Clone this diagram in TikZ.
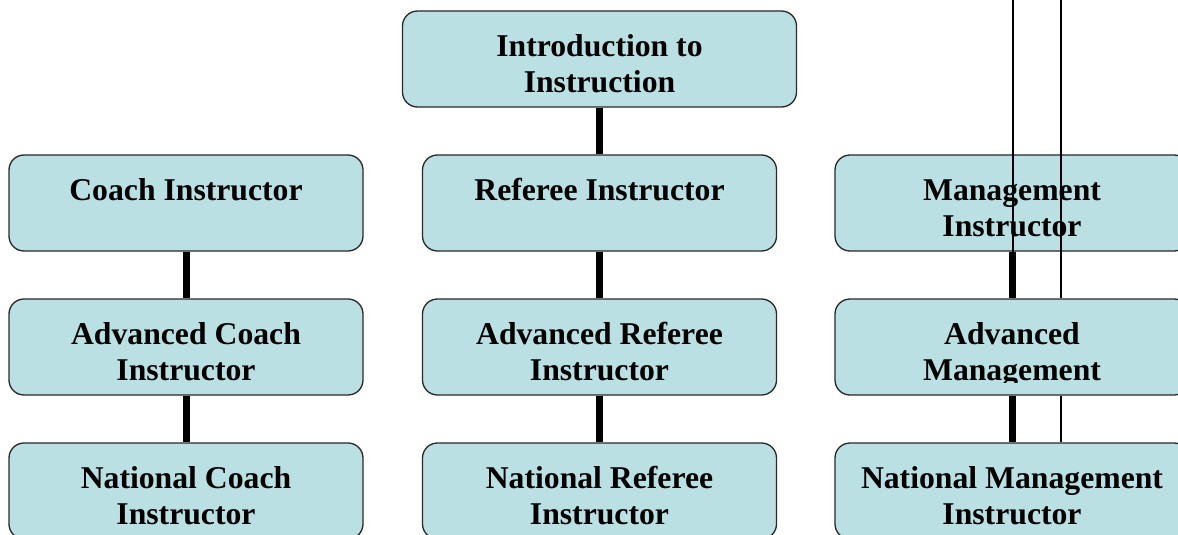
\documentclass[tikz,border=0pt]{standalone}
\usepackage{fontspec}
\setmainfont{Liberation Serif}
\begin{document}
\begin{tikzpicture}[x=1pt,y=-1pt,
  box/.style={draw={rgb,255:red,40;green,40;blue,40},line width=1.3pt,
    fill={rgb,255:red,187;green,224;blue,227},rounded corners=15pt,
    minimum width=354pt,minimum height=96pt,inner sep=0pt},
  txt/.style={anchor=base,align=center,inner sep=0pt,
    font=\fontsize{31.7}{36}\selectfont\bfseries},
  thick line/.style={line width=7pt},
  thin line/.style={line width=2pt}]
\useasboundingbox (0,0) rectangle (1178,535);
\clip (0,0) rectangle (1178,535);
% row 0
\node[box,minimum width=394pt] (intro) at (599.5,59) {};
\node[txt] (intro-t) at ([yshift=-82pt]intro.north) {Introduction to\\Instruction};
% row 1
\node[box] (ci) at (186,203) {};
\node[txt] (ci-t) at ([yshift=-46pt]ci.north) {Coach Instructor};
\node[box] (ri) at (599.5,203) {};
\node[txt] (ri-t) at ([yshift=-46pt]ri.north) {Referee Instructor};
\node[box] (mi) at (1012,203) {};
\node[txt] (mi-t) at ([yshift=-82pt]mi.north) {Management\\Instructor};
% thin lines over the right column
\coordinate (t1) at (1013,0);
\coordinate (t2) at (1061,0);
% row 2 & 3 boxes
\node[box] (aci) at (186,347) {};
\node[box] (ari) at (599.5,347) {};
\node[box] (ami) at (1012,347) {};
\node[box] (nci) at (186,491) {};
\node[box] (nri) at (599.5,491) {};
\node[box] (nmi) at (1012,491) {};
\draw[thin line] (t1) -- (t1 |- ami.north);
\draw[thin line] (t2) -- (t2 |- ami.north);
\draw[thin line] (t2 |- ami.south) -- (t2 |- nmi.north);
\node[txt] (aci-t) at ([yshift=-82pt]aci.north) {Advanced Coach\\Instructor};
\node[txt] (ari-t) at ([yshift=-82pt]ari.north) {Advanced Referee\\Instructor};
\begin{scope}
\clip (835,300) rectangle (1190,382.5);
\node[txt] (ami-t) at ([yshift=-82pt]ami.north) {Advanced\\Management};
\end{scope}
\node[txt] (nci-t) at ([yshift=-82pt]nci.north) {National Coach\\Instructor};
\node[txt] (nri-t) at ([yshift=-82pt]nri.north) {National Referee\\Instructor};
\node[txt] (nmi-t) at ([yshift=-82pt]nmi.north) {National Management\\Instructor};
% thick connectors
\draw[thick line] (intro.south) -- (ri.north);
\draw[thick line] (ci.south) -- (aci.north);
\draw[thick line] (aci.south) -- (nci.north);
\draw[thick line] (ri.south) -- (ari.north);
\draw[thick line] (ari.south) -- (nri.north);
\draw[thick line] (mi.south) -- (ami.north);
\draw[thick line] (ami.south) -- (nmi.north);
\end{tikzpicture}
\end{document}
